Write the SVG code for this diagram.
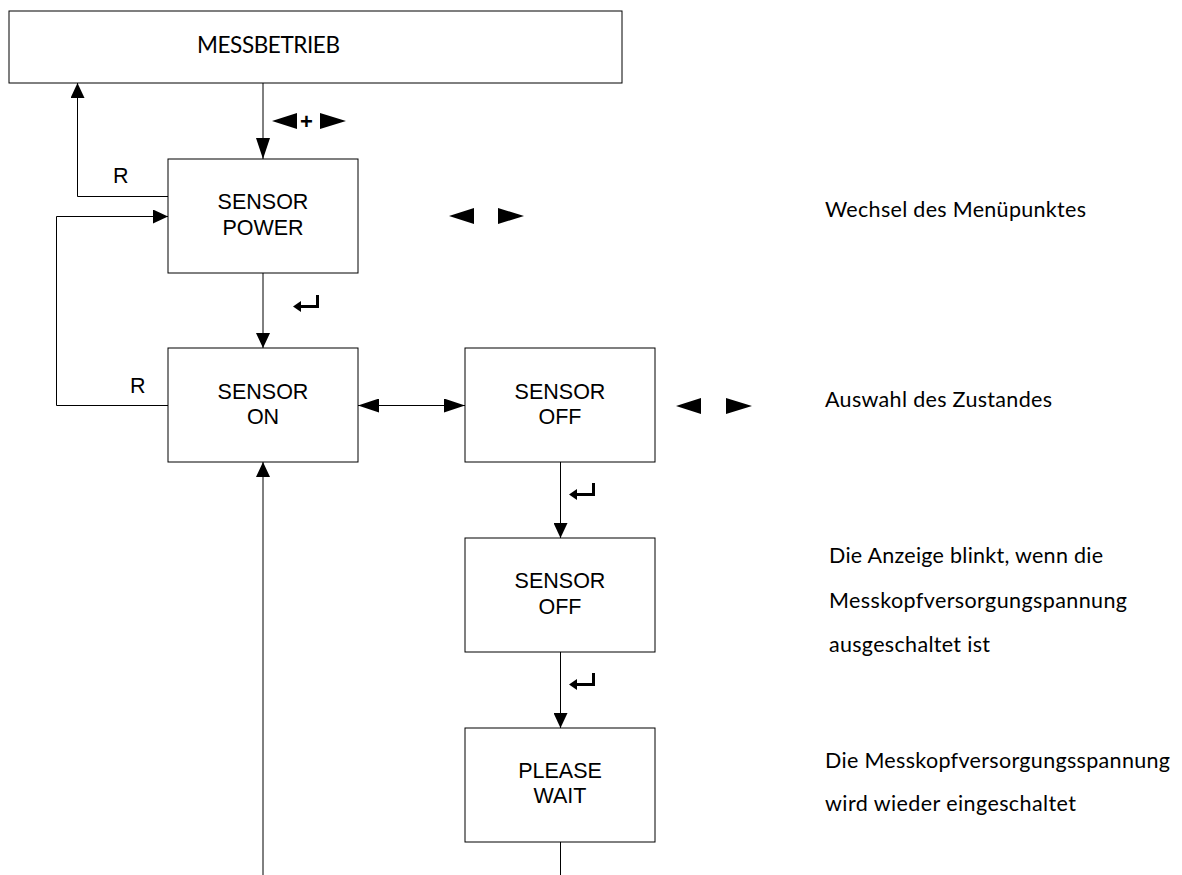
<svg xmlns="http://www.w3.org/2000/svg" width="1182" height="875" viewBox="0 0 1182 875">
  <style>
    .box { fill: #fff; stroke: #000; stroke-width: 1; }
    .lbl { font-family: "Liberation Sans", Arial, sans-serif; font-size: 21.5px; fill: #000; text-anchor: middle; }
    .r { font-family: "Liberation Sans", Arial, sans-serif; font-size: 21.5px; fill: #000; }
    .note { font-family: Lato, "Open Sans", sans-serif; font-size: 21.5px; fill: #000; }
    .title { font-family: Lato, "Open Sans", sans-serif; font-size: 22.5px; fill: #000; }
    .plus { font-family: "Liberation Sans", Arial, sans-serif; font-size: 22px; font-weight: bold; fill: #000; }
    .conn { fill: none; stroke: #000; stroke-width: 1; }
    .sym { fill: #000; }
  </style>
  <defs>
    <marker id="ah" markerUnits="userSpaceOnUse" markerWidth="15" markerHeight="14" refX="15" refY="7" orient="auto">
      <path d="M0,0 L15,7 L0,14 z" fill="#000"/>
    </marker>
    <marker id="ahL" markerUnits="userSpaceOnUse" markerWidth="21" markerHeight="14" refX="21" refY="7" orient="auto-start-reverse">
      <path d="M0,0 L21,7 L0,14 z" fill="#000"/>
    </marker>
    <g id="tri-left"><polygon class="sym" points="0,8 25,0 25,16"/></g>
    <g id="tri-right"><polygon class="sym" points="0,0 26,8 0,16"/></g>
    <g id="enter-key">
      <rect class="sym" x="23" y="0" width="3" height="13"/>
      <rect class="sym" x="6" y="10" width="20" height="3"/>
      <polygon class="sym" points="0,11.5 8,6 8,17"/>
    </g>
  </defs>
  <rect width="1182" height="875" fill="#fff"/>

  <g id="connectors">
    <line class="conn" x1="263" y1="83" x2="263" y2="159" marker-end="url(#ahL)"/>
    <polyline class="conn" points="168,196.5 77.5,196.5 77.5,83" marker-end="url(#ah)"/>
    <polyline class="conn" points="168,405.5 56.5,405.5 56.5,216.5 168,216.5" marker-end="url(#ah)"/>
    <line class="conn" x1="263" y1="273" x2="263" y2="348" marker-end="url(#ah)"/>
    <line class="conn" x1="358" y1="405.5" x2="465" y2="405.5" marker-start="url(#ahL)" marker-end="url(#ahL)"/>
    <line class="conn" x1="560.5" y1="462" x2="560.5" y2="538" marker-end="url(#ah)"/>
    <line class="conn" x1="560.5" y1="652" x2="560.5" y2="728" marker-end="url(#ah)"/>
    <line class="conn" x1="560.5" y1="842" x2="560.5" y2="875"/>
    <line class="conn" x1="263" y1="875" x2="263" y2="462" marker-end="url(#ah)"/>
  </g>

  <g id="labels">
    <text class="r" x="113" y="183">R</text>
    <text class="r" x="130" y="393">R</text>
    <use href="#tri-left" x="272" y="113"/>
    <text class="plus" x="300" y="129">+</text>
    <use href="#tri-right" x="320" y="113"/>
    <use href="#tri-left" x="449" y="208"/>
    <use href="#tri-right" x="498" y="208"/>
    <use href="#tri-left" x="676" y="398"/>
    <use href="#tri-right" x="726" y="398"/>
    <use href="#enter-key" x="293" y="295"/>
    <use href="#enter-key" x="569" y="483"/>
    <use href="#enter-key" x="569" y="673"/>
  </g>

  <g id="node-messbetrieb">
    <rect class="box" x="9" y="11" width="613" height="72"/>
    <text class="title" x="197" y="53" textLength="143">MESSBETRIEB</text>
  </g>
  <g id="node-sensor-power">
    <rect class="box" x="168" y="159" width="190" height="114"/>
    <text class="lbl" x="263" y="209">SENSOR</text>
    <text class="lbl" x="263" y="235">POWER</text>
  </g>
  <g id="node-sensor-on">
    <rect class="box" x="168" y="348" width="190" height="114"/>
    <text class="lbl" x="263" y="399">SENSOR</text>
    <text class="lbl" x="263" y="424">ON</text>
  </g>
  <g id="node-sensor-off">
    <rect class="box" x="465" y="348" width="190" height="114"/>
    <text class="lbl" x="560" y="399">SENSOR</text>
    <text class="lbl" x="560" y="424">OFF</text>
  </g>
  <g id="node-sensor-off-blink">
    <rect class="box" x="465" y="538" width="190" height="114"/>
    <text class="lbl" x="560" y="588">SENSOR</text>
    <text class="lbl" x="560" y="614">OFF</text>
  </g>
  <g id="node-please-wait">
    <rect class="box" x="465" y="728" width="190" height="114"/>
    <text class="lbl" x="560" y="778">PLEASE</text>
    <text class="lbl" x="560" y="803">WAIT</text>
  </g>

  <g id="notes">
    <text class="note" x="825" y="217" textLength="261">Wechsel des Menüpunktes</text>
    <text class="note" x="825" y="407" textLength="227">Auswahl des Zustandes</text>
    <text class="note" x="829" y="563" textLength="274">Die Anzeige blinkt, wenn die</text>
    <text class="note" x="829" y="608" textLength="298">Messkopfversorgungspannung</text>
    <text class="note" x="829" y="652" textLength="161">ausgeschaltet ist</text>
    <text class="note" x="825" y="768" textLength="345">Die Messkopfversorgungsspannung</text>
    <text class="note" x="825" y="811" textLength="251">wird wieder eingeschaltet</text>
  </g>
</svg>
